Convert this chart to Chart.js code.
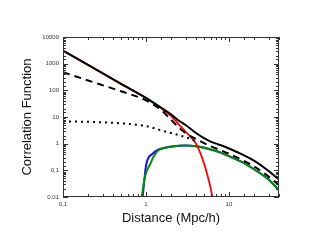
<!DOCTYPE html>
<html>
<head>
<meta charset="utf-8">
<script src="https://cdn.jsdelivr.net/npm/chart.js@4.4.1/dist/chart.umd.min.js"></script>
<style>
  html, body { margin: 0; padding: 0; background: #fff; }
  #wrap { width: 315px; height: 242px; }
</style>
</head>
<body>
<div id="wrap"><canvas id="corrChart"></canvas></div>
<script>
// values (Mpc/h vs xi)
var totalX = [0.1, 0.2, 0.5, 1, 1.5, 2, 2.5, 3, 4, 5, 6, 7, 8, 10, 15, 20, 30, 40];
var totalY = [3100, 900, 175, 52, 23, 12.5, 7.2, 5.0, 2.5, 1.6, 1.2, 1.0, 0.87, 0.66, 0.37, 0.23, 0.095, 0.045];

var oneHaloX = [0.1, 0.2, 0.5, 1, 1.5, 2, 2.5, 3, 3.5, 4, 4.5, 5, 5.5, 6, 6.3];
var oneHaloY = [3100, 900, 175, 52, 22, 11, 5.2, 2.8, 1.7, 1.0, 0.45, 0.18, 0.065, 0.022, 0.01];

var dashX = [0.1, 0.2, 0.5, 1, 1.5, 2, 2.5, 3, 4, 5, 6, 8, 10, 15, 20, 30, 40];
var dashY = [480, 235, 92, 42, 19, 8, 3.9, 2.5, 1.5, 1.05, 0.8, 0.56, 0.42, 0.23, 0.14, 0.058, 0.028];

var dotX = [0.1, 0.2, 0.3, 0.5, 0.7, 1, 1.5, 2, 3, 4];
var dotY = [6.8, 6.6, 6.3, 5.8, 5.3, 4.6, 3.2, 2.5, 1.75, 1.25];

var blueX = [0.91, 1.0, 1.06, 1.2, 1.35, 1.6, 2, 3, 4, 5, 7, 10, 15, 20, 30, 40];
var blueY = [0.01, 0.15, 0.28, 0.42, 0.56, 0.68, 0.77, 0.85, 0.8, 0.7, 0.53, 0.34, 0.19, 0.11, 0.045, 0.018];

var greenX = [0.89, 0.95, 1.0, 1.12, 1.25, 1.4, 1.7, 2, 3, 4, 5, 7, 10, 15, 20, 30, 40];
var greenY = [0.01, 0.04, 0.08, 0.17, 0.35, 0.55, 0.7, 0.78, 0.85, 0.8, 0.7, 0.53, 0.34, 0.19, 0.11, 0.045, 0.018];

var xMin = 0.1, xMax = 40;
var yMin = 0.01, yMax = 10000;

function pts(xs, ys) {
  return xs.map(function (x, i) { return { x: x, y: ys[i] }; });
}
function isDecade(v) {
  var l = Math.log10(v);
  return Math.abs(l - Math.round(l)) < 1e-6;
}
function decadeLabel(v) {
  return isDecade(v) ? String(v).replace('.', ',') : '';
}

// box around the plot with inward ticks on all four sides
var frame = {
  id: 'frame',
  afterDatasetsDraw: function (chart) {
    var ctx = chart.ctx, a = chart.chartArea;
    var sx = chart.scales.x, sy = chart.scales.y;
    ctx.save();
    ctx.strokeStyle = '#333';
    ctx.lineWidth = 1;
    ctx.strokeRect(Math.round(a.left) + 0.5, Math.round(a.top) + 0.5,
      Math.round(a.right - a.left) - 1, Math.round(a.bottom - a.top) - 1);
    ctx.beginPath();
    sx.ticks.forEach(function (t) {
      var px = Math.round(sx.getPixelForValue(t.value)) + 0.5;
      var len = isDecade(t.value) ? 5 : 3;
      ctx.moveTo(px, a.bottom); ctx.lineTo(px, a.bottom - len);
      ctx.moveTo(px, a.top); ctx.lineTo(px, a.top + len);
    });
    sy.ticks.forEach(function (t) {
      var py = Math.round(sy.getPixelForValue(t.value)) + 0.5;
      var len = isDecade(t.value) ? 5 : 3;
      ctx.moveTo(a.left, py); ctx.lineTo(a.left + len, py);
      ctx.moveTo(a.right, py); ctx.lineTo(a.right - len, py);
    });
    ctx.stroke();
    ctx.restore();
  }
};

var common = { showLine: true, pointRadius: 0, fill: false, cubicInterpolationMode: 'monotone' };

// first dataset is painted last, so the solid black sits on top
new Chart(document.getElementById('corrChart'), {
  type: 'scatter',
  data: {
    datasets: [
      Object.assign({ data: pts(totalX, totalY), borderColor: '#000', borderWidth: 2 }, common),
      Object.assign({ data: pts(dashX, dashY), borderColor: '#000', borderWidth: 2, borderDash: [7, 5] }, common),
      Object.assign({ data: pts(dotX, dotY), borderColor: '#000', borderWidth: 2, borderDash: [2, 4] }, common),
      Object.assign({ data: pts(oneHaloX, oneHaloY), borderColor: '#ff0000', borderWidth: 1.8 }, common),
      Object.assign({ data: pts(greenX, greenY), borderColor: '#0a8a0a', borderWidth: 2 }, common),
      Object.assign({ data: pts(blueX, blueY), borderColor: '#1010e0', borderWidth: 2 }, common)
    ]
  },
  options: {
    responsive: true,
    maintainAspectRatio: false,
    animation: false,
    layout: { padding: { left: 0, right: 36, top: 37, bottom: 0 } },
    plugins: { legend: { display: false }, tooltip: { enabled: false } },
    scales: {
      x: {
        type: 'logarithmic',
        min: xMin, max: xMax,
        grid: { display: false, drawTicks: false },
        border: { display: false },
        afterFit: function (s) { s.height = 45; },
        ticks: {
          autoSkip: false, maxRotation: 0, padding: 4,
          color: '#333', font: { family: 'Liberation Sans', size: 6 },
          callback: function (v) { return decadeLabel(v); }
        },
        title: {
          display: true, text: 'Distance (Mpc/h)', color: '#111',
          font: { family: 'Liberation Sans', size: 13 },
          padding: { top: 0, bottom: 16 }
        }
      },
      y: {
        type: 'logarithmic',
        min: yMin, max: yMax,
        grid: { display: false, drawTicks: false },
        border: { display: false },
        afterFit: function (s) { s.width = 63; },
        ticks: {
          autoSkip: false, padding: 4,
          color: '#333', font: { family: 'Liberation Sans', size: 6 },
          callback: function (v) { return decadeLabel(v); }
        },
        title: {
          display: true, text: 'Correlation Function', color: '#111',
          font: { family: 'Liberation Sans', size: 13 },
          padding: { top: 20, bottom: 0 }
        }
      }
    }
  },
  plugins: [frame]
});
</script>
</body>
</html>
